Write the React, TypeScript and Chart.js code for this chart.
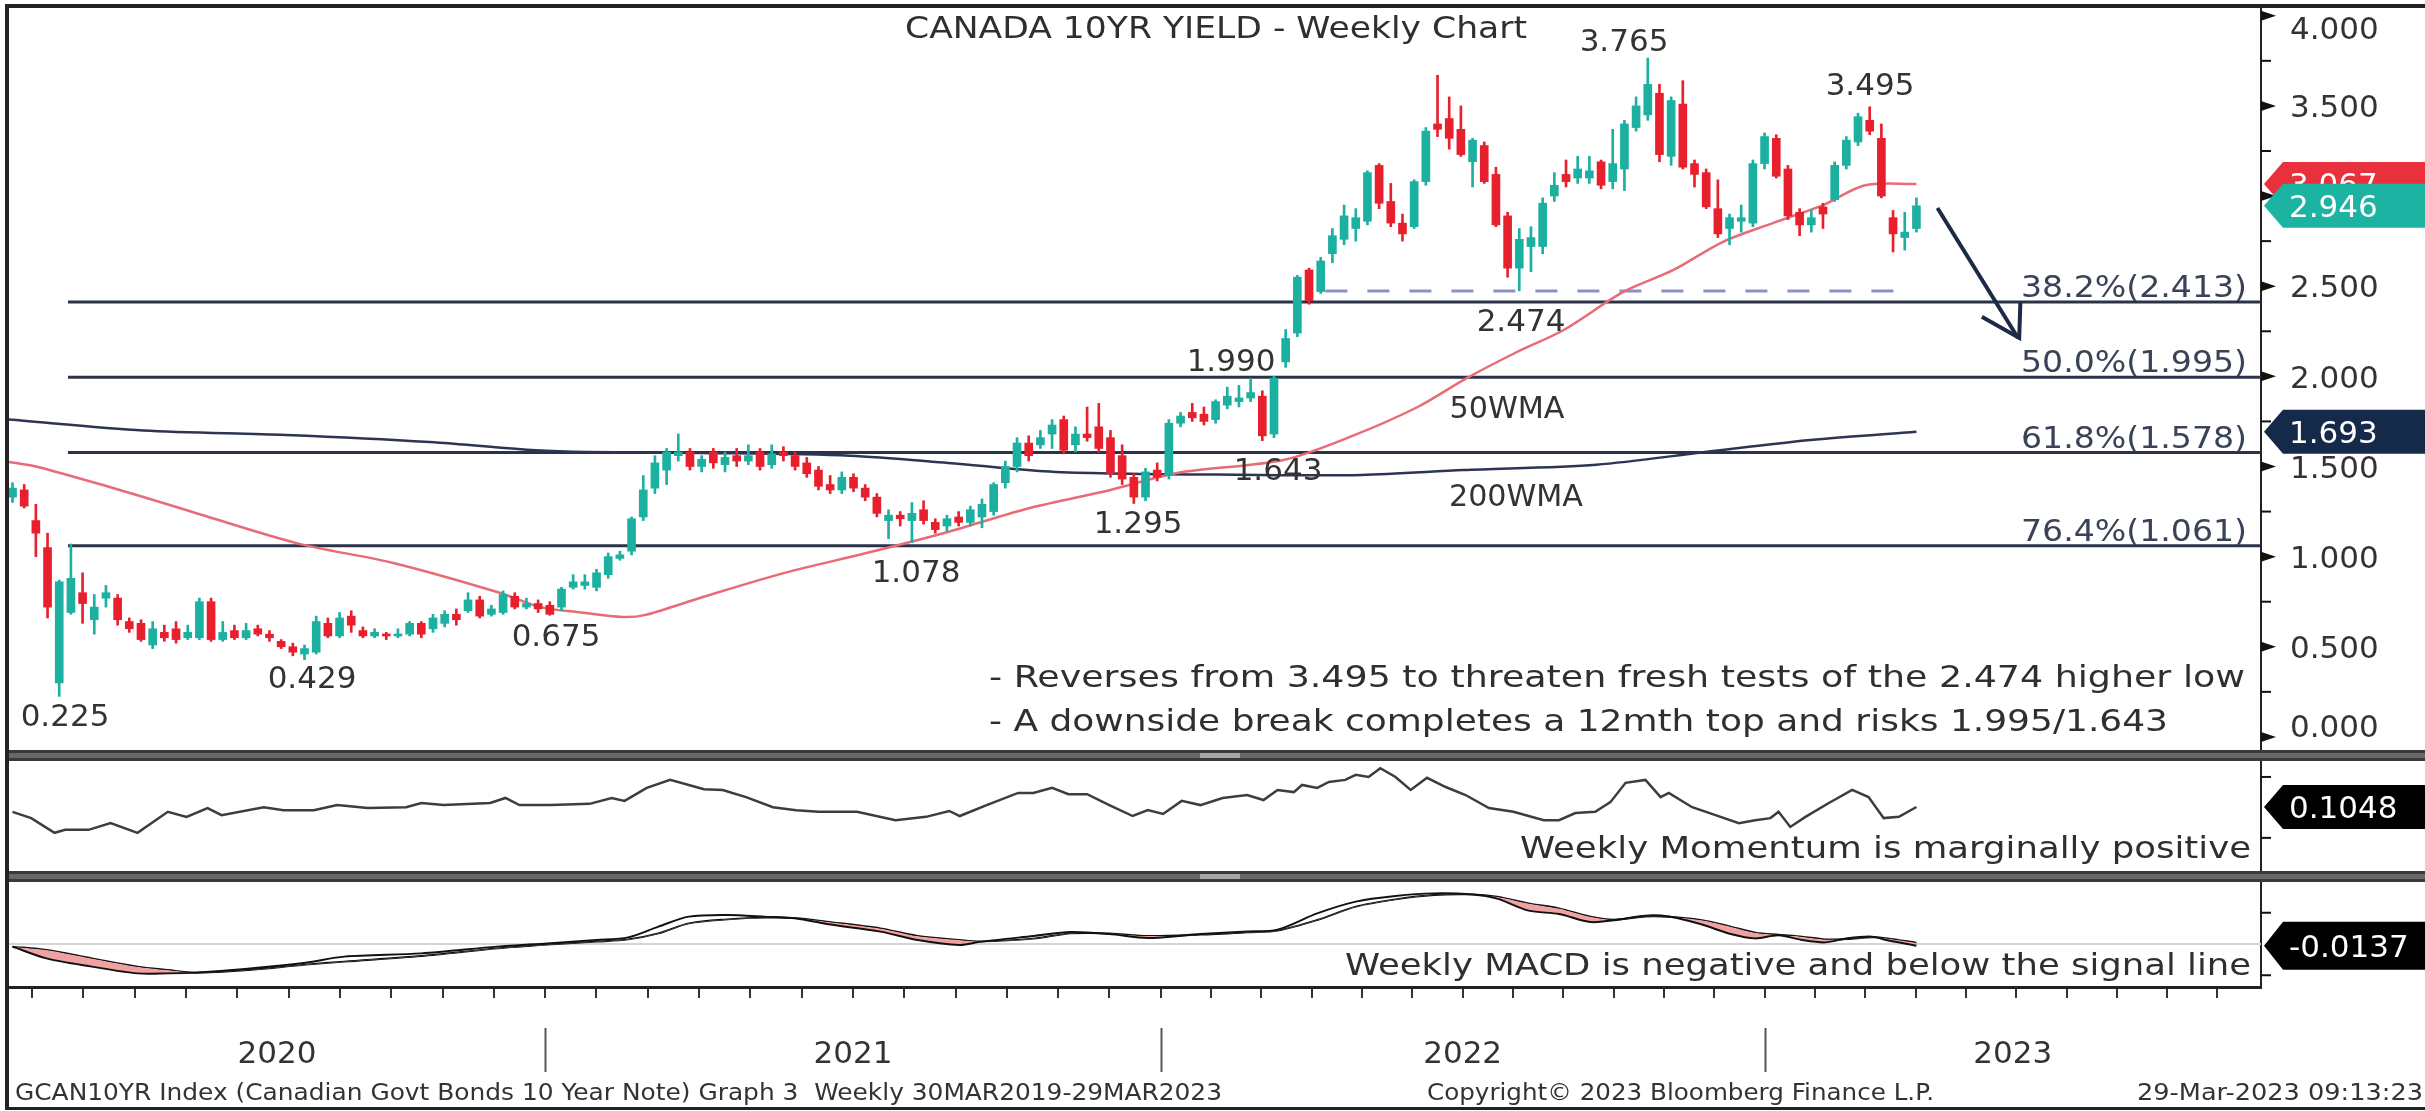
import React, { useEffect, useRef } from 'react';
import { Chart, registerables } from 'chart.js';

Chart.register(...registerables);

// ---------- DATA ----------
const opens = [
  1.33,1.37,1.20,1.05,0.30,0.69,0.80,0.65,0.77,0.77,
  0.64,0.63,0.51,0.58,0.60,0.55,0.55,0.75,0.54,0.59,
  0.55,0.60,0.57,0.53,0.50,0.46,0.47,0.63,0.56,0.67,
  0.59,0.56,0.57,0.56,0.57,0.63,0.60,0.63,0.68,0.70,
  0.76,0.68,0.69,0.78,0.72,0.74,0.73,0.72,0.83,0.84,
  0.83,0.90,0.99,1.03,1.22,1.38,1.48,1.56,1.58,1.50,
  1.58,1.51,1.56,1.53,1.58,1.51,1.58,1.56,1.52,1.48,
  1.40,1.37,1.44,1.38,1.33,1.20,1.23,1.20,1.26,1.19,
  1.17,1.22,1.19,1.22,1.25,1.41,1.50,1.63,1.62,1.68,
  1.76,1.62,1.68,1.72,1.66,1.56,1.44,1.33,1.48,1.45,
  1.74,1.80,1.79,1.76,1.84,1.86,1.88,1.89,1.68,2.08,
  2.24,2.59,2.47,2.68,2.76,2.82,2.86,3.17,2.97,2.85,
  2.83,3.08,3.40,3.43,3.37,3.19,3.28,3.12,2.89,2.60,
  2.72,2.72,3.00,3.12,3.10,3.10,3.19,3.08,3.15,3.38,
  3.45,3.57,3.22,3.51,3.18,3.13,2.93,2.82,2.86,2.85,
  3.18,3.32,3.15,2.91,2.84,2.94,2.98,3.17,3.30,3.42,
  3.32,2.88,2.77,2.82,
];
const highs = [
  1.41,1.40,1.29,1.13,0.87,1.07,0.91,0.79,0.84,0.79,
  0.66,0.65,0.64,0.62,0.64,0.62,0.77,0.77,0.64,0.62,
  0.63,0.62,0.59,0.54,0.52,0.51,0.67,0.66,0.69,0.70,
  0.61,0.60,0.58,0.60,0.64,0.64,0.68,0.70,0.71,0.80,
  0.78,0.73,0.81,0.80,0.77,0.76,0.75,0.83,0.90,0.90,
  0.93,1.02,1.03,1.22,1.45,1.56,1.60,1.68,1.60,1.56,
  1.60,1.58,1.60,1.62,1.60,1.62,1.61,1.58,1.55,1.50,
  1.45,1.47,1.46,1.40,1.35,1.26,1.25,1.30,1.31,1.21,
  1.23,1.25,1.28,1.32,1.41,1.53,1.66,1.67,1.70,1.76,
  1.78,1.72,1.83,1.85,1.70,1.62,1.46,1.49,1.52,1.76,
  1.80,1.85,1.83,1.87,1.94,1.95,1.99,1.92,2.00,2.26,
  2.56,2.60,2.66,2.82,2.95,2.93,3.14,3.18,3.07,2.90,
  3.09,3.38,3.67,3.55,3.50,3.32,3.30,3.16,2.91,2.82,
  2.83,2.99,3.13,3.20,3.22,3.22,3.20,3.37,3.42,3.55,
  3.765,3.62,3.55,3.64,3.20,3.15,3.09,2.90,2.95,3.20,
  3.35,3.34,3.17,2.93,2.92,2.96,3.19,3.33,3.46,3.495,
  3.40,2.92,2.91,2.99,
];
const lows = [
  1.30,1.27,1.00,0.66,0.225,0.68,0.63,0.57,0.72,0.62,
  0.58,0.53,0.49,0.53,0.52,0.54,0.54,0.53,0.53,0.54,
  0.54,0.56,0.53,0.49,0.45,0.429,0.46,0.55,0.55,0.58,
  0.55,0.55,0.54,0.55,0.56,0.55,0.58,0.61,0.62,0.69,
  0.66,0.67,0.68,0.71,0.71,0.69,0.675,0.70,0.82,0.82,
  0.81,0.88,0.98,1.01,1.20,1.35,1.40,1.53,1.48,1.47,
  1.49,1.47,1.50,1.51,1.48,1.49,1.53,1.48,1.44,1.37,
  1.35,1.35,1.36,1.31,1.22,1.10,1.17,1.078,1.18,1.13,
  1.14,1.17,1.17,1.16,1.23,1.38,1.47,1.53,1.60,1.60,
  1.57,1.58,1.64,1.58,1.44,1.40,1.295,1.31,1.42,1.43,
  1.72,1.75,1.73,1.74,1.82,1.83,1.86,1.643,1.66,2.05,
  2.22,2.40,2.46,2.63,2.73,2.75,2.84,2.93,2.83,2.75,
  2.82,3.06,3.33,3.26,3.22,3.05,3.07,2.83,2.55,2.474,
  2.58,2.68,2.97,3.05,3.07,3.07,3.04,3.04,3.03,3.36,
  3.42,3.19,3.17,3.15,3.05,2.93,2.77,2.73,2.80,2.83,
  3.15,3.10,2.87,2.78,2.80,2.82,2.97,3.15,3.28,3.34,
  2.99,2.69,2.70,2.80,
];
const closes = [
  1.38,1.28,1.13,0.72,0.86,0.88,0.74,0.72,0.80,0.65,
  0.60,0.54,0.60,0.55,0.54,0.58,0.75,0.54,0.58,0.55,
  0.59,0.57,0.55,0.50,0.47,0.49,0.64,0.56,0.66,0.62,
  0.56,0.58,0.56,0.57,0.63,0.57,0.66,0.68,0.65,0.76,
  0.67,0.71,0.79,0.72,0.74,0.71,0.68,0.82,0.86,0.86,
  0.91,1.00,1.01,1.21,1.37,1.52,1.58,1.58,1.50,1.54,
  1.52,1.55,1.53,1.56,1.50,1.57,1.56,1.50,1.46,1.39,
  1.37,1.44,1.38,1.33,1.24,1.23,1.21,1.24,1.20,1.15,
  1.21,1.19,1.26,1.29,1.40,1.50,1.63,1.56,1.66,1.73,
  1.59,1.68,1.66,1.60,1.46,1.43,1.33,1.47,1.44,1.74,
  1.78,1.77,1.75,1.86,1.89,1.88,1.91,1.67,1.99,2.21,
  2.55,2.42,2.64,2.78,2.89,2.88,3.13,2.96,2.85,2.79,
  3.08,3.36,3.37,3.32,3.23,3.31,3.08,2.84,2.60,2.76,
  2.77,2.96,3.06,3.08,3.15,3.14,3.06,3.18,3.40,3.50,
  3.62,3.23,3.53,3.16,3.12,2.94,2.79,2.88,2.88,3.18,
  3.33,3.11,2.89,2.84,2.88,2.90,3.17,3.31,3.44,3.36,
  3.00,2.79,2.80,2.946,
];

// 50-week moving average (red) read at sample weeks
const ma50Weeks = [-0.3,2.0,8.1,14.3,24.3,32.6,41.7,45.2,48.7,52.2,54.2,59.1,66.1,73.1,80.1,87.1,94.0,99.7,108.8,114.5,120.3,124.5,128.8,132.8,137.9,142.2,146.4,150.7,155.0,158.6,163];
const ma50Values = [1.525,1.50,1.39,1.27,1.075,0.965,0.80,0.72,0.69,0.665,0.677,0.776,0.91,1.02,1.137,1.27,1.37,1.464,1.536,1.664,1.83,1.99,2.135,2.257,2.468,2.59,2.745,2.85,2.95,3.06,3.067];
// 200-week moving average (navy)
const ma200Weeks = [-0.3,11.2,23.4,35.7,44.8,49.2,58.9,71.7,80.1,89.3,106.7,115.5,124.2,135.6,144.9,153.9,163];
const ma200Values = [1.76,1.70,1.675,1.636,1.59,1.58,1.575,1.56,1.52,1.47,1.453,1.453,1.48,1.51,1.58,1.647,1.693];

// Fibonacci retracements
const fibPct = ['38.2%', '50.0%', '61.8%', '76.4%'];
const fibLevels = [2.413, 1.995, 1.578, 1.061];
const higherLow = 2.474;

// Weekly momentum
const momWeeks = [0,1.6,3.6,4.5,6.5,8.4,10.7,13.3,14.9,16.7,17.9,21.5,23.2,25.8,27.8,30.4,33.7,35.0,36.9,40.9,42.2,43.4,46.1,49.4,51.3,52.4,54.3,56.3,59.2,60.8,62.8,65.1,67.1,69.0,72.3,75.6,78.2,80.2,81.1,83.4,86.1,87.4,89.0,90.4,92.0,93.9,95.9,97.2,98.5,100.1,101.7,103.6,105.7,107.1,108.3,109.7,110.4,111.7,112.7,114.1,115.0,116.1,117.1,118.4,119.7,121.1,122.7,124.4,126.4,128.5,131.1,132.4,133.8,135.5,136.8,138.1,139.8,141.1,141.8,143.8,145.8,147.8,149.2,150.5,151.2,152.2,153.5,155.5,157.5,158.9,160.2,161.5,163];
const momValues = [-0.01,-0.16,-0.51,-0.44,-0.44,-0.28,-0.51,-0.01,-0.13,0.08,-0.09,0.10,0.03,0.03,0.15,0.08,0.10,0.20,0.15,0.20,0.32,0.15,0.15,0.18,0.32,0.25,0.56,0.75,0.53,0.51,0.34,0.10,0.03,-0.01,-0.01,-0.21,-0.13,0.01,-0.11,0.15,0.44,0.44,0.56,0.41,0.41,0.15,-0.11,0.03,-0.06,0.25,0.15,0.32,0.39,0.27,0.51,0.46,0.63,0.56,0.70,0.75,0.87,0.82,1.03,0.82,0.51,0.80,0.58,0.39,0.08,-0.01,-0.21,-0.21,-0.04,-0.01,0.22,0.68,0.75,0.34,0.44,0.10,-0.09,-0.28,-0.21,-0.16,-0.01,-0.37,-0.13,0.20,0.51,0.34,-0.16,-0.13,0.1048];

// Weekly MACD and its signal line
const macdWeeks = [0,2.9,6.8,10.7,13.3,15.6,19.9,25.1,28.4,35.0,41.5,45.8,50.0,52.7,55.3,57.9,61.2,64.4,67.1,69.7,74.3,77.5,81.1,82.8,87.4,90.6,93.9,97.2,101.7,105.7,108.3,111.7,115.0,118.4,121.7,125.0,127.1,129.8,132.4,135.1,137.1,139.8,141.8,144.5,147.1,149.2,151.2,153.2,155.2,157.1,159.2,160.5,163];
const macdValues = [-0.021,-0.115,-0.181,-0.235,-0.235,-0.229,-0.200,-0.150,-0.101,-0.075,-0.021,0.005,0.032,0.053,0.139,0.219,0.232,0.219,0.204,0.160,0.099,0.032,-0.008,0.017,0.064,0.096,0.080,0.048,0.080,0.101,0.115,0.245,0.339,0.384,0.405,0.396,0.363,0.267,0.240,0.176,0.190,0.227,0.220,0.160,0.080,0.045,0.070,0.032,0.013,0.046,0.059,0.030,-0.0137];
const signalValues = [-0.021,-0.048,-0.115,-0.181,-0.208,-0.229,-0.210,-0.165,-0.141,-0.096,-0.035,-0.005,0.019,0.037,0.085,0.165,0.197,0.211,0.207,0.179,0.125,0.064,0.032,0.021,0.043,0.085,0.085,0.064,0.075,0.093,0.107,0.192,0.299,0.357,0.392,0.397,0.379,0.325,0.285,0.219,0.195,0.220,0.218,0.192,0.139,0.091,0.074,0.059,0.037,0.040,0.053,0.045,0.010];

// Axis definitions
const yTicks = [0, 0.5, 1, 1.5, 2, 2.5, 3, 3.5, 4];
const yearStarts = [45.6, 98.3, 150.0];
const yearLabels = ['2020', '2021', '2022', '2023'];

// ---------- STYLE ----------
const TEAL = '#1bb0a0';
const RED = '#e8202d';
const FONT = '"DejaVu Sans", "Liberation Sans", sans-serif';
const TXT = '#2f2f2f';

const W = 2425, H = 1111;
const X_MIN = -0.3, X_MAX = 192.5;

function monthTicks(): number[] {
  const out: number[] = [];
  const before = (yearStarts[1] - yearStarts[0]) / 12;
  for (let k = 1; k <= 12; k++) {
    const v = yearStarts[0] - k * before;
    if (v >= 0) out.push(v);
  }
  for (let y = 0; y < yearStarts.length - 1; y++) {
    const step = (yearStarts[y + 1] - yearStarts[y]) / 12;
    for (let k = 0; k < 12; k++) out.push(yearStarts[y] + k * step);
  }
  const last = (yearStarts[2] - yearStarts[1]) / 12;
  for (let k = 0; k < 12; k++) {
    const v = yearStarts[2] + k * last;
    if (v < X_MAX - 1) out.push(v);
  }
  return out.sort((a, b) => a - b);
}

function drawText(ctx: CanvasRenderingContext2D, s: string, x: number, y: number, size: number, align: CanvasTextAlign, color: string, width?: number) {
  ctx.save();
  ctx.font = `${size}px ${FONT}`;
  ctx.fillStyle = color;
  ctx.textBaseline = 'alphabetic';
  ctx.textAlign = align;
  const w = ctx.measureText(s).width;
  const sx = width ? width / w : 1;
  ctx.translate(x, y + size * 0.36);
  ctx.scale(sx, 1);
  ctx.fillText(s, 0, 0);
  ctx.restore();
}

function drawTag(ctx: CanvasRenderingContext2D, yc: number, color: string, text: string, h = 44) {
  const x0 = 2264, x1 = 2283, x2 = W;
  ctx.save();
  ctx.fillStyle = color;
  ctx.beginPath();
  ctx.moveTo(x0, yc);
  ctx.lineTo(x1, yc - h / 2);
  ctx.lineTo(x2, yc - h / 2);
  ctx.lineTo(x2, yc + h / 2);
  ctx.lineTo(x1, yc + h / 2);
  ctx.closePath();
  ctx.fill();
  ctx.restore();
  drawText(ctx, text, 2289, yc, 31, 'left', '#ffffff');
}

const overlayPlugin = {
  id: 'overlay',
  beforeDraw(chart: any) {
    const ctx = chart.ctx;
    ctx.save();
    ctx.fillStyle = '#ffffff';
    ctx.fillRect(0, 0, chart.width, chart.height);
    ctx.restore();
  },
  afterDraw(chart: any) {
    const ctx: CanvasRenderingContext2D = chart.ctx;
    const xs = chart.scales.x, ys = chart.scales.y, ym = chart.scales.yMom, yc = chart.scales.yMacd;
    const ca = chart.chartArea;

    // y-axis ticks and labels (main panel)
    ctx.save();
    ctx.fillStyle = '#111';
    ctx.strokeStyle = '#111';
    ctx.lineWidth = 2;
    for (const v of yTicks) {
      const py = ys.getPixelForValue(v);
      ctx.beginPath();
      ctx.moveTo(ca.right, py - 5);
      ctx.lineTo(ca.right + 15, py);
      ctx.lineTo(ca.right, py + 5);
      ctx.closePath();
      ctx.fill();
      if (v < 4) {
        const pm = ys.getPixelForValue(v + 0.25);
        ctx.beginPath();
        ctx.moveTo(ca.right, pm);
        ctx.lineTo(ca.right + 10, pm);
        ctx.stroke();
      }
    }
    for (const v of [0.82, -0.63]) {
      const p = ym.getPixelForValue(v);
      ctx.beginPath(); ctx.moveTo(ca.right, p); ctx.lineTo(ca.right + 10, p); ctx.stroke();
    }
    for (const v of [0.25, -0.25]) {
      const p = yc.getPixelForValue(v);
      ctx.beginPath(); ctx.moveTo(ca.right, p); ctx.lineTo(ca.right + 10, p); ctx.stroke();
    }
    ctx.restore();
    for (const v of yTicks) {
      const py = Math.min(726, Math.max(28, ys.getPixelForValue(v)));
      drawText(ctx, v.toFixed(3), 2290, py, 31, 'left', '#333');
    }

    // panel separators
    const bar = (y0: number, y1: number) => {
      ctx.fillStyle = '#3a3a3a';
      ctx.fillRect(9, y0, W - 9, y1 - y0);
      ctx.fillStyle = '#686868';
      ctx.fillRect(9, y0 + 3, W - 9, y1 - y0 - 6);
      ctx.fillStyle = '#a6a6a6';
      ctx.fillRect(1200, y0 + 3, 40, y1 - y0 - 6);
    };
    bar(750, 761);
    bar(871, 882);

    // tags
    drawTag(ctx, ys.getPixelForValue(ma50Values[ma50Values.length - 1]), '#e8313c', ma50Values[ma50Values.length - 1].toFixed(3));
    drawTag(ctx, ys.getPixelForValue(closes[closes.length - 1]), '#1db3a3', closes[closes.length - 1].toFixed(3));
    drawTag(ctx, ys.getPixelForValue(ma200Values[ma200Values.length - 1]), '#15294a', ma200Values[ma200Values.length - 1].toFixed(3));
    drawTag(ctx, ym.getPixelForValue(momValues[momValues.length - 1]), '#000000', momValues[momValues.length - 1].toFixed(4));
    drawTag(ctx, yc.getPixelForValue(macdValues[macdValues.length - 1]), '#000000', macdValues[macdValues.length - 1].toFixed(4), 48);

    // title and annotations
    drawText(ctx, 'CANADA 10YR YIELD - Weekly Chart', 1216, 27, 31, 'center', TXT, 622);
    const notes: [string, number, number][] = [
      ['3.765', 1624, 40], ['3.495', 1870, 84], ['2.474', 1521, 320], ['1.990', 1231, 360],
      ['1.643', 1278, 469], ['1.295', 1138, 522], ['1.078', 916, 571], ['0.675', 556, 635],
      ['0.429', 312, 677], ['0.225', 65, 715],
    ];
    for (const [s, x, y] of notes) drawText(ctx, s, x, y, 31, 'center', '#333');
    drawText(ctx, '50WMA', 1507, 407, 31, 'center', '#333', 115);
    drawText(ctx, '200WMA', 1516, 495, 31, 'center', '#333', 134);
    fibLevels.forEach((lv, i) => {
      const py = ys.getPixelForValue(lv);
      drawText(ctx, `${fibPct[i]}(${lv.toFixed(3)})`, 2247, py - 16, 31, 'right', '#3a4257', 226);
    });
    drawText(ctx, '- Reverses from 3.495 to threaten fresh tests of the 2.474 higher low', 989, 676, 30, 'left', TXT, 1256);
    drawText(ctx, '- A downside break completes a 12mth top and risks 1.995/1.643', 989, 720, 30, 'left', TXT, 1179);
    drawText(ctx, 'Weekly Momentum is marginally positive', 2251, 847, 30, 'right', TXT, 731);
    drawText(ctx, 'Weekly MACD is negative and below the signal line', 2251, 964, 30, 'right', TXT, 906);

    // year separators and labels
    ctx.save();
    ctx.strokeStyle = '#555';
    ctx.lineWidth = 2;
    const bounds = [ca.left, ...yearStarts.map((v) => xs.getPixelForValue(v)), ca.right];
    for (const v of yearStarts) {
      const px = Math.round(xs.getPixelForValue(v)) + 0.5;
      ctx.beginPath(); ctx.moveTo(px, 1028); ctx.lineTo(px, 1072); ctx.stroke();
    }
    ctx.restore();
    yearLabels.forEach((s, i) => drawText(ctx, s, (bounds[i] + bounds[i + 1]) / 2, 1052, 31, 'center', '#333'));

    // footer
    drawText(ctx, 'GCAN10YR Index (Canadian Govt Bonds 10 Year Note) Graph 3  Weekly 30MAR2019-29MAR2023', 15, 1092, 23, 'left', '#333', 1207);
    drawText(ctx, 'Copyright© 2023 Bloomberg Finance L.P.', 1427, 1092, 23, 'left', '#333', 507);
    drawText(ctx, '29-Mar-2023 09:13:23', 2137, 1092, 23, 'left', '#333', 286);

    // frame
    ctx.fillStyle = '#222';
    ctx.fillRect(5, 4, W - 5, 4);
    ctx.fillRect(5, 4, 4, H - 6);
    ctx.fillRect(5, H - 4, W - 5, 3);
  },
};

export default function App() {
  const ref = useRef<HTMLCanvasElement | null>(null);

  useEffect(() => {
    if (!ref.current) return;
    const idx = opens.map((_, i) => i);
    const colors = idx.map((i) => (closes[i] >= opens[i] ? TEAL : RED));
    const hline = (v: number, from: number, to: number) => [{ x: from, y: v }, { x: to, y: v }];
    const fibStart = 4.75;

    const datasets: any[] = [
      {
        type: 'bar', label: 'body', yAxisID: 'y', order: 2, grouped: false,
        data: idx.map((i) => ({ x: i, y: [opens[i], closes[i]] })),
        backgroundColor: colors, barThickness: 8, minBarLength: 2, borderWidth: 0,
      },
      {
        type: 'bar', label: 'wick', yAxisID: 'y', order: 3, grouped: false,
        data: idx.map((i) => ({ x: i, y: [lows[i], highs[i]] })),
        backgroundColor: colors, barThickness: 2, borderWidth: 0,
      },
      {
        type: 'line', label: '50WMA', yAxisID: 'y', order: 5,
        data: ma50Weeks.map((w, i) => ({ x: w, y: ma50Values[i] })),
        borderColor: '#e86b76', borderWidth: 2.5, pointRadius: 0, tension: 0.3, fill: false,
      },
      {
        type: 'line', label: '200WMA', yAxisID: 'y', order: 6,
        data: ma200Weeks.map((w, i) => ({ x: w, y: ma200Values[i] })),
        borderColor: '#2d3552', borderWidth: 2.5, pointRadius: 0, tension: 0.3, fill: false,
      },
      ...fibLevels.map((lv) => ({
        type: 'line', label: 'fib', yAxisID: 'y', order: 8,
        data: hline(lv, fibStart, X_MAX),
        borderColor: '#2b3348', borderWidth: 3, pointRadius: 0, fill: false,
      })),
      {
        type: 'line', label: 'higher low', yAxisID: 'y', order: 7,
        data: hline(higherLow, 112.4, 161.6),
        borderColor: '#8d90c8', borderWidth: 3, borderDash: [22, 20], pointRadius: 0, fill: false,
      },
      {
        type: 'line', label: 'arrow', yAxisID: 'y', order: 1,
        data: [{ x: 164.8, y: 2.934 }, { x: 171.7, y: 2.213 }],
        borderColor: '#1c2a48', borderWidth: 4, pointRadius: 0, fill: false,
      },
      {
        type: 'line', label: 'arrowhead', yAxisID: 'y', order: 1,
        data: [{ x: 171.9, y: 2.413 }, { x: 171.8, y: 2.213 }, { x: 168.6, y: 2.33 }],
        borderColor: '#1c2a48', borderWidth: 4, pointRadius: 0, fill: false,
      },
      {
        type: 'line', label: 'momentum', yAxisID: 'yMom', order: 1,
        data: momWeeks.map((w, i) => ({ x: w, y: momValues[i] })),
        borderColor: '#3d3d3d', borderWidth: 2.5, pointRadius: 0, fill: false,
      },
      {
        type: 'line', label: 'zero', yAxisID: 'yMacd', order: 9,
        data: hline(0, X_MIN, X_MAX),
        borderColor: '#d4d4d4', borderWidth: 2, pointRadius: 0, fill: false,
      },
      {
        type: 'line', label: 'MACD', yAxisID: 'yMacd', order: 1,
        data: macdWeeks.map((w, i) => ({ x: w, y: macdValues[i] })),
        borderColor: '#111', borderWidth: 2, pointRadius: 0, tension: 0.3,
        fill: { target: '+1', above: 'rgba(255,255,255,0)', below: '#f0a2a2' },
      },
      {
        type: 'line', label: 'Signal', yAxisID: 'yMacd', order: 1,
        data: macdWeeks.map((w, i) => ({ x: w, y: signalValues[i] })),
        borderColor: '#111', borderWidth: 2, pointRadius: 0, tension: 0.3, fill: false,
      },
    ];

    const chart = new Chart(ref.current, {
      type: 'bar',
      data: { datasets },
      options: {
        responsive: false,
        animation: false,
        devicePixelRatio: 1,
        events: [],
        layout: { padding: { left: 9, top: 8, right: 0, bottom: 0 }, autoPadding: false },
        plugins: { legend: { display: false }, tooltip: { enabled: false } },
        scales: {
          x: {
            type: 'linear', min: X_MIN, max: X_MAX, offset: false, position: 'bottom',
            afterFit: (s: any) => { s.height = 124; },
            afterBuildTicks: (s: any) => { s.ticks = monthTicks().map((v) => ({ value: v })); },
            grid: { offset: false, drawOnChartArea: false, drawTicks: true, tickLength: 11, color: '#333', lineWidth: 2 },
            border: { display: true, color: '#222', width: 3 },
            ticks: { callback: () => '', font: { size: 10 } },
          },
          y: {
            type: 'linear', position: 'right', min: -1.387, max: 4.043,
            afterFit: (s: any) => { s.width = 164; },
            afterBuildTicks: (s: any) => { s.ticks = yTicks.map((v) => ({ value: v })); },
            grid: { display: false, drawTicks: false },
            border: { display: true, color: '#222', width: 2 },
            ticks: { display: false },
          },
          yMom: { type: 'linear', display: false, min: -4.181, max: 19.128 },
          yMacd: { type: 'linear', display: false, min: -0.344, max: 7.488 },
        },
      } as any,
      plugins: [overlayPlugin],
    });
    return () => chart.destroy();
  }, []);

  return (
    <canvas
      ref={ref}
      width={W}
      height={H}
      style={{ position: 'absolute', left: 0, top: 0, width: W, height: H }}
    />
  );
}
